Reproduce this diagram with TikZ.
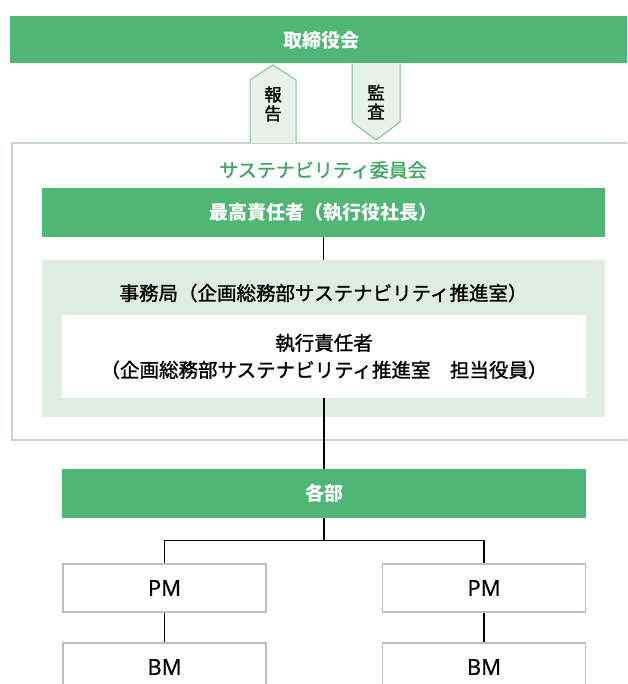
\documentclass[tikz,border=0pt]{standalone}
\usepackage{fontspec}
\setmainfont{Noto Sans CJK JP}
\newfontfamily\heavyjp{Noto Sans CJK JP}[FakeBold=1.2]
\newfontfamily\latinfont{Open Sans}[FakeBold=0.8]
\usetikzlibrary{positioning}

% Farben
\definecolor{barGreen}{RGB}{80,182,118}
\definecolor{officeGreen}{RGB}{222,236,226}
\definecolor{tagFill}{RGB}{232,241,234}
\definecolor{tagLine}{RGB}{130,192,150}
\definecolor{frameGray}{RGB}{200,212,208}
\definecolor{boxGray}{RGB}{185,192,192}
\definecolor{titleGreen}{RGB}{62,165,98}

\tikzset{
    greenbar/.style={fill=barGreen, text=white, inner sep=0pt,
        font=\bfseries\fontsize{19}{22}\selectfont},
    whitebox/.style={draw=boxGray, line width=1.2pt, fill=white, inner sep=0pt,
        font=\latinfont\fontsize{22}{24}\selectfont},
    plain/.style={inner sep=0pt, font=\heavyjp\fontsize{19.5}{22}\selectfont},
    tag/.style={fill=tagFill, draw=tagLine, line width=1pt},
    link/.style={draw=black, line width=1.4pt}
}

\begin{document}
\begin{tikzpicture}[x=1pt, y=-1pt]

    \useasboundingbox (0,0) rectangle (627,684);
    \clip (0,0) rectangle (627,684);

    % Vorstand oben
    \node[greenbar, minimum width=622, minimum height=47] (board) at (321,40) {取締役会};

    % Rahmen Ausschuss
    \node[draw=frameGray, line width=1.3pt, minimum width=648, minimum height=297] (committee) at (336,291.5) {};
    \node[plain, text=titleGreen, font=\heavyjp\fontsize{19}{22}\selectfont] (title) at (323,170) {サステナビリティ委員会};

    % Pfeile zwischen Vorstand und Ausschuss
    \fill[tagFill] (250,143) -- (250,80) -- (273,65) -- (296,80) -- (296,143) -- cycle;
    \draw[tag, fill=none] (250,143) -- (250,80) -- (273,65) -- (296,80) -- (296,143);
    \fill[tagFill] (352,64) -- (352,122) -- (376,140) -- (400,122) -- (400,64) -- cycle;
    \draw[tag, fill=none] (352,64) -- (352,122) -- (376,140) -- (400,122) -- (400,64);
    \node[plain, align=center, font=\heavyjp\fontsize{17.5}{19}\selectfont] (report) at (273,104) {報\\告};
    \node[plain, align=center, font=\heavyjp\fontsize{17.5}{19}\selectfont] (audit) at (376,102) {監\\査};

    % Ausschuss innen
    \node[greenbar, minimum width=563, minimum height=49] (chief) at (323.5,212.5) {最高責任者（執行役社長）};
    \node[fill=officeGreen, minimum width=563, minimum height=157, inner sep=0pt] (office) at (323.5,338.5) {};
    \node[plain] (officename) at (323.5,293) {事務局（企画総務部サステナビリティ推進室）};
    \node[fill=white, minimum width=524, minimum height=83, inner sep=0pt, align=center,
        font=\heavyjp\fontsize{19.5}{27}\selectfont] (exec) at (324,356.5)
        {執行責任者\\（企画総務部サステナビリティ推進室　担当役員）};

    % Abteilungen
    \node[greenbar, minimum width=524, minimum height=49] (dept) at (324,493.5) {各部};

    \node[whitebox, minimum width=203, minimum height=48] (pmleft) at (164.5,588) {PM};
    \node[whitebox, minimum width=203, minimum height=48] (pmright) at (484,588) {PM};
    \node[whitebox, minimum width=203, minimum height=48] (bmleft) at (164.5,667) {BM};
    \node[whitebox, minimum width=203, minimum height=48] (bmright) at (484,667) {BM};

    % Verbindungen
    \draw[link] (chief.south) -- (office.north);
    \draw[link] (exec.south) -- (dept.north);
    \path (dept.south) ++(0,22) coordinate (fork);
    \draw[link] (dept.south) -- (fork);
    \draw[link] (fork) -| (pmleft.north);
    \draw[link] (fork) -| (pmright.north);
    \draw[link] (pmleft) -- (bmleft);
    \draw[link] (pmright) -- (bmright);

\end{tikzpicture}
\end{document}
